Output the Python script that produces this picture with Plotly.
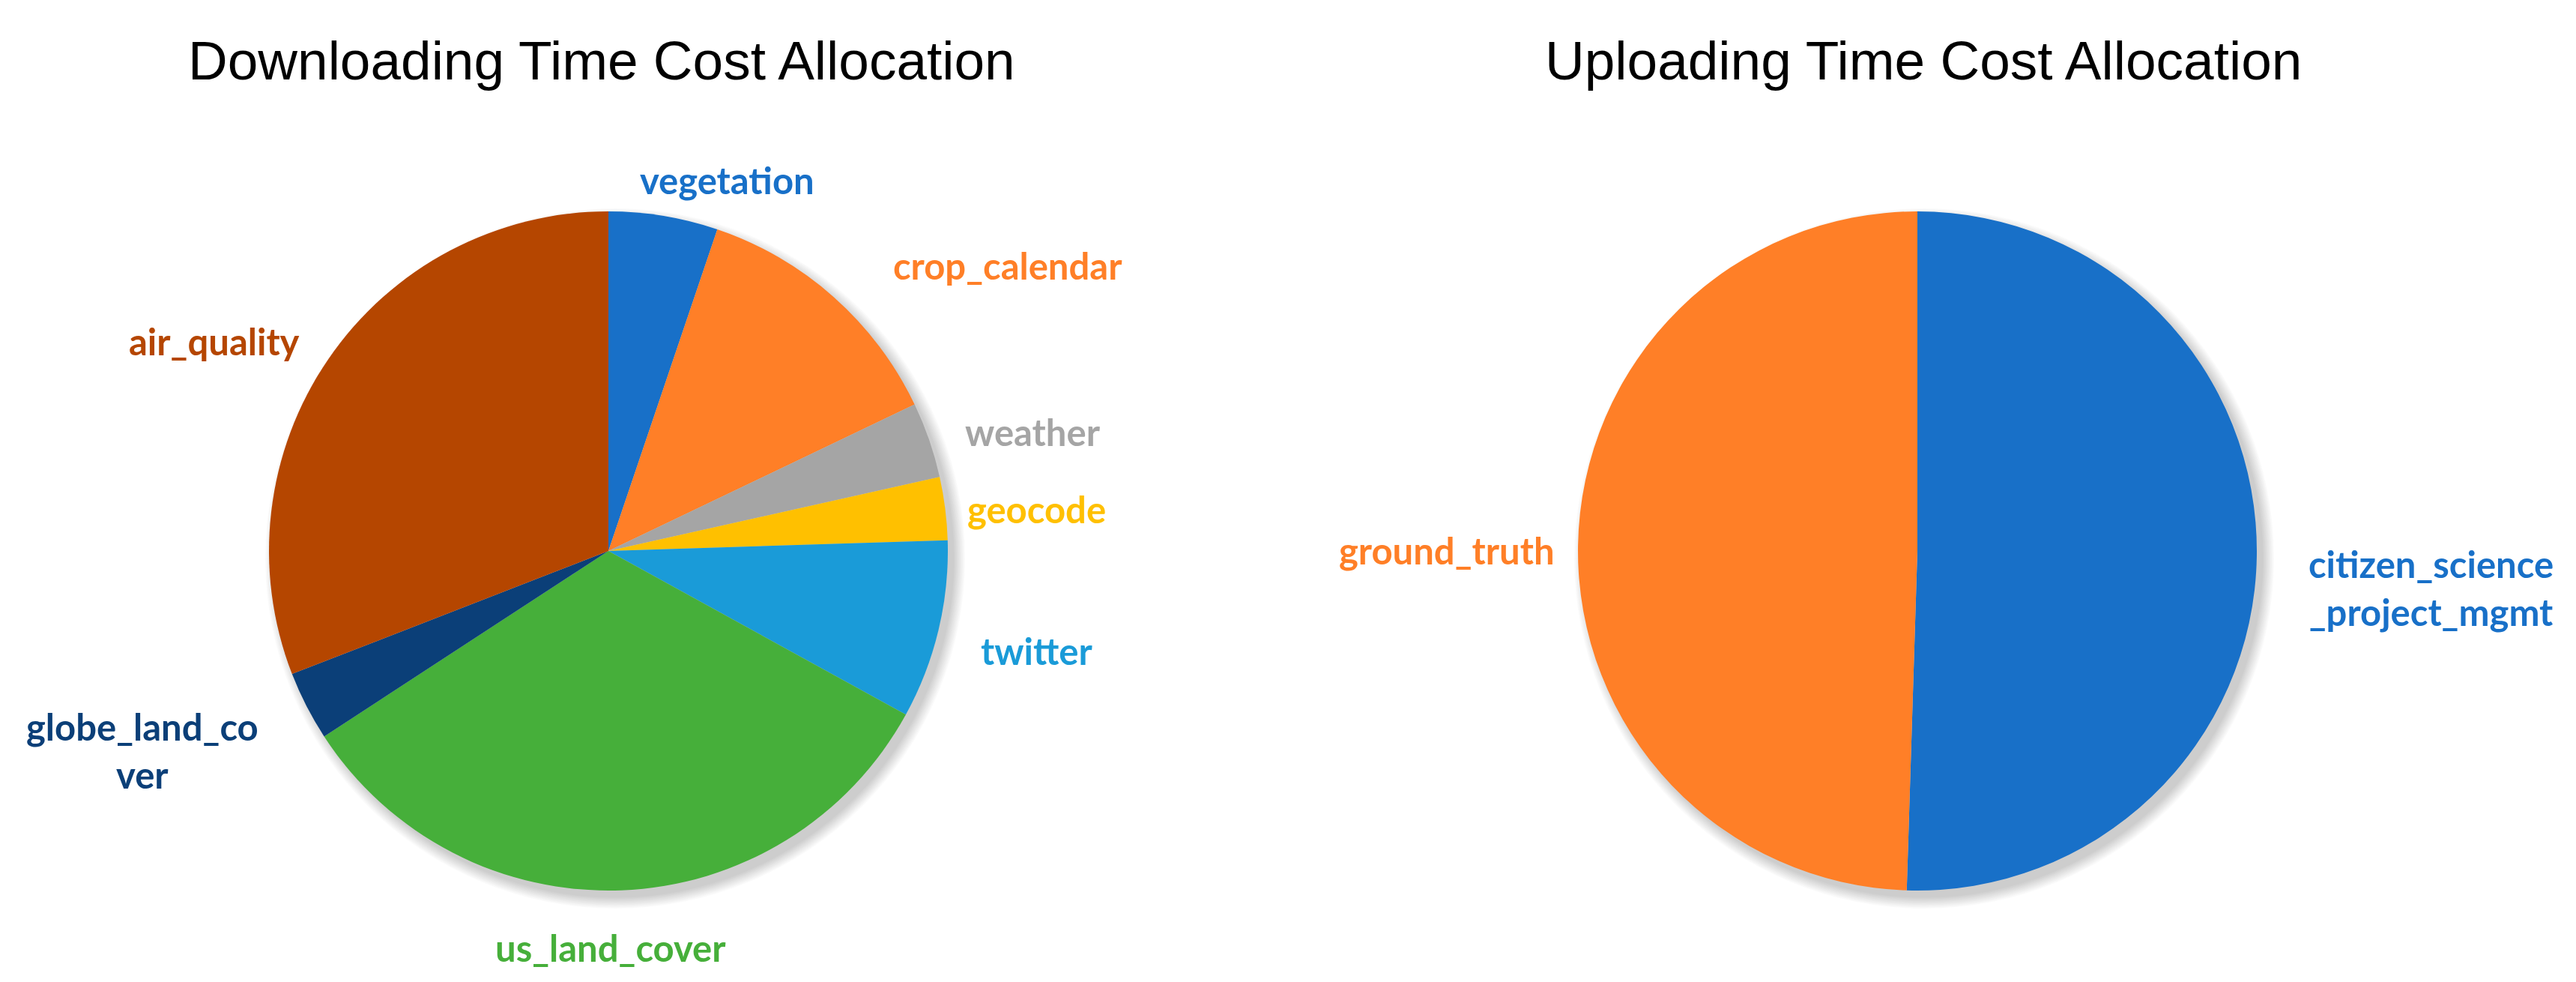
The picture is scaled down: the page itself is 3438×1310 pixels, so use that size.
import plotly.graph_objects as go

# downloading time share per component (clockwise from 12 o'clock)
dl_labels = ["vegetation", "crop_calendar", "weather", "geocode", "twitter",
             "us_land_cover", "globe_land_cover", "air_quality"]
dl_values = [5.2, 12.7, 3.6, 3.0, 8.5, 32.8, 3.3, 30.9]
dl_colors = ["#1870C8", "#FF7F27", "#A5A5A5", "#FFC000", "#1A9BD8",
             "#46AF3A", "#0B3F78", "#B54600"]

# uploading time share
ul_labels = ["citizen_science_project_mgmt", "ground_truth"]
ul_values = [50.5, 49.5]
ul_colors = ["#1870C8", "#FF7F27"]

W, H = 3438, 1310
R = 453
centers = [(813, 734), (2560, 734)]


def domain(cx, cy):
    # plotly ends up ~8px right / ~7px low of the nominal centre, compensate
    cx -= 9
    cy -= 7
    return dict(x=[(cx - R) / W, (cx + R) / W],
                y=[(H - cy - R) / H, (H - cy + R) / H])


fig = go.Figure()

fig.add_trace(go.Pie(
    labels=dl_labels, values=dl_values,
    marker=dict(colors=dl_colors, line=dict(width=0)),
    sort=False, direction="clockwise", rotation=0,
    textinfo="none", showlegend=False,
    domain=domain(*centers[0]),
))

fig.add_trace(go.Pie(
    labels=ul_labels, values=ul_values,
    marker=dict(colors=ul_colors, line=dict(width=0)),
    sort=False, direction="clockwise", rotation=0,
    textinfo="none", showlegend=False,
    domain=domain(*centers[1]),
))

# soft drop shadow behind each pie (stacked faint circles)
shapes = []
for cx, cy in centers:
    for k in range(1, 11):
        rr = R - 2 + 1.6 * k
        shapes.append(dict(
            type="circle", xref="paper", yref="paper", layer="below",
            x0=(cx - rr) / W, x1=(cx + rr) / W,
            y0=(H - cy - 3 - rr) / H, y1=(H - cy - 3 + rr) / H,
            fillcolor="rgba(0,0,0,0.018)", line=dict(width=0),
        ))

# label placement in pixels (x, y from top) -- Excel style outside labels
dl_label_text = {"globe_land_cover": "globe_land_co<br>ver"}
dl_label_pos = [(962, 232), (1337, 346), (1370, 568), (1375, 671), (1375, 860),
                (807, 1256), (182, 993), (278, 447)]
ul_label_text = {"citizen_science_project_mgmt": "citizen_science<br>_project_mgmt"}
ul_label_pos = [(3236, 776), (1923, 726)]

annotations = []
for labels, colors, pos, alt in [(dl_labels, dl_colors, dl_label_pos, dl_label_text),
                                 (ul_labels, ul_colors, ul_label_pos, ul_label_text)]:
    for lab, col, (px_, py_) in zip(labels, colors, pos):
        annotations.append(dict(
            text="<b>" + alt.get(lab, lab).replace("<br>", "</b><br><b>") + "</b>",
            x=px_ / W, y=1 - py_ / H, xref="paper", yref="paper",
            xanchor="center", yanchor="middle", showarrow=False,
            font=dict(family="Lato", size=49, color=col),
        ))

for txt, cx in [("Downloading Time Cost Allocation", 795),
                ("Uploading Time Cost Allocation", 2559)]:
    annotations.append(dict(
        text=txt, x=cx / W, y=1 - 72 / H, xref="paper", yref="paper",
        xanchor="center", yanchor="middle", showarrow=False,
        font=dict(family="Liberation Sans", size=73, color="black"),
    ))

fig.update_layout(
    width=W, height=H,
    margin=dict(l=0, r=0, t=0, b=0),
    paper_bgcolor="white", plot_bgcolor="white",
    annotations=annotations, shapes=shapes,
)

fig.write_html("out.html")
